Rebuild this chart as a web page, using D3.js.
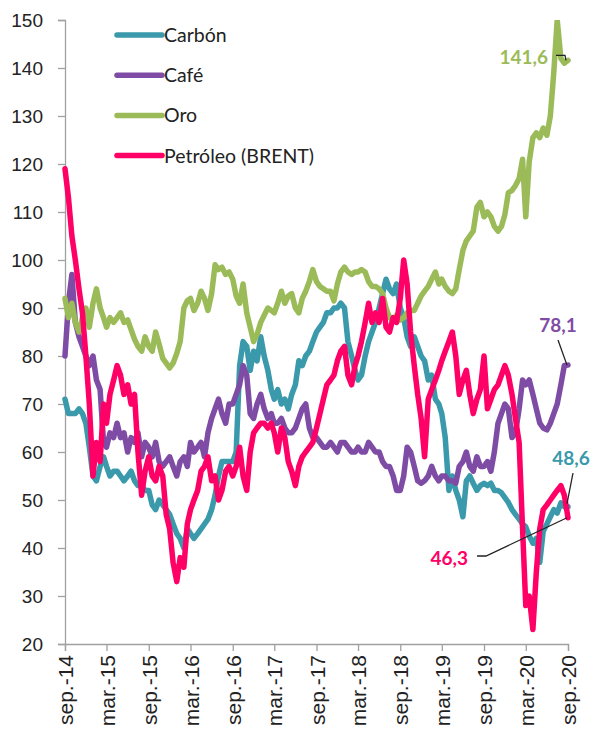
<!DOCTYPE html>
<html>
<head>
<meta charset="utf-8">
<script src="https://cdn.jsdelivr.net/npm/d3@7"></script>
<style>
  body { margin: 0; background: #fff; }
  svg { display: block; font-family: Lato, "Noto Sans", sans-serif; }
</style>
</head>
<body>
<div id="chart"></div>
<script>
// Half-month observations, sep-14 .. sep-20 (index 0 = 1 sep 2014)
const carbon = [
  71, 68, 68, 68, 69, 68, 66, 61, 55, 54, 57, 59, 57, 55, 56, 56, 55, 54, 55, 56,
  54, 53, 53, 52, 52, 49, 48, 50, 49, 48, 47, 45, 43, 42, 40, 44, 43, 42, 43, 44,
  45, 46, 48, 51, 55, 58, 58, 58, 58, 60, 78, 83, 82, 77, 81, 79, 84, 80, 77, 73,
  71, 73, 70, 71, 69, 72, 74, 79, 78, 80, 81, 83, 85, 86, 87, 89, 89, 90, 90, 91,
  90, 83, 80, 77, 75, 76, 80, 83, 85, 87, 90, 93, 96, 94, 93, 95, 90, 88, 84, 82,
  84, 82, 80, 79, 75, 76, 71, 70, 68, 63, 52, 55, 52, 50, 46.5, 54, 55, 53.5, 52, 53,
  53.5, 53, 53.5, 52, 52, 51.5, 50.5, 49.5, 48, 47, 46, 45, 44.4, 42.5, 41, 42, 37, 43.5, 45, 46.5,
  48, 47.3, 49.4, 48.6, 48.6
];
const cafe = [
  80, 91, 97, 87, 84, 82, 80, 78, 80, 75, 73, 62, 61, 64, 63, 66, 63, 64, 60, 63,
  62, 64, 59, 62, 61, 59, 62, 58, 57, 58, 59, 57, 55, 58, 59, 57, 62, 60, 61, 62,
  59, 64, 67, 69, 71, 68, 66, 70, 70, 72, 74, 78, 76, 68, 67, 70, 72, 69, 67, 68,
  66, 66, 67, 65, 64, 64, 65, 67, 69, 70, 65, 63, 63, 62, 61, 61, 62, 61, 60, 62,
  62, 61, 60, 60, 61, 60, 60, 62, 61, 60, 60, 58, 57, 57, 55, 52, 52, 55, 61, 60,
  57, 54, 53.5, 54, 55, 57, 55, 54, 55, 55, 54, 54, 53.5, 57, 58, 60, 57, 56, 59, 57,
  57, 58, 56, 60, 66, 68, 70, 69, 63, 64, 69, 75, 74, 75, 72, 69, 66, 65, 64.6, 66,
  68, 70, 74, 78, 78.1
];
const oro = [
  92, 88, 91, 87, 85, 88, 90, 86, 91, 94, 90, 88, 86, 88, 87, 88, 89, 87, 87.5, 85.5,
  83.5, 82, 81, 84, 82, 81, 85, 82.5, 79.5, 78.5, 77.5, 78.5, 80.5, 83, 90, 91.5, 92, 89.5, 91, 93.5,
  92, 89.5, 93, 99, 98, 98.5, 97, 97.5, 96, 92.5, 91, 95, 89, 86, 83, 84.5, 87, 88.5, 90, 89.5,
  89, 91, 93.5, 91, 92.5, 93, 90, 89, 92, 93.5, 95.5, 98, 95.5, 94.5, 94, 93.5, 93.5, 91.5, 95, 97.5,
  98.5, 97.5, 97, 97.5, 97.5, 98, 97.5, 95.5, 94.5, 94.5, 94, 93, 90, 88, 87.5, 88.5, 87.5, 88, 89, 89.5,
  89.5, 91, 92.5, 93.5, 94.5, 96, 97.5, 95, 96, 94.5, 93.5, 93, 94, 98, 102, 104, 105, 106, 111, 112,
  109, 110, 109, 107, 106, 107, 109.5, 114, 114.5, 115.5, 117, 121, 109, 120.5, 125.5, 126.5, 125.5, 127.5, 126, 130,
  139, 150, 142, 141, 141.6
];
const petroleo = [
  119, 113, 105, 100, 94, 89, 80, 70, 55, 62, 58, 70, 66, 72, 75, 78, 76, 72, 74, 70,
  72, 60, 51, 56, 59, 55, 54, 57, 55, 47, 44, 37, 33, 38, 36, 45, 48, 50, 52, 56,
  57, 59, 54, 55, 50, 52, 56, 57, 55, 57, 61, 55, 52, 60, 64, 65, 66, 66, 65, 66,
  64, 60, 65, 63, 58, 56, 53, 57, 59, 60, 61, 62, 65, 68, 71, 74, 75, 76, 79, 81,
  82, 76, 74, 78, 80, 83, 87, 91, 87, 89, 87, 92, 86, 85, 88, 87, 92, 100, 95, 85,
  78, 72, 67, 59, 71, 73, 75, 77, 79, 81, 83, 85, 80, 72, 75, 77, 72, 68, 71, 73,
  80, 69, 71, 73, 74, 76, 78, 76, 72, 67, 62, 44, 28, 30, 23, 35, 44, 48, 49, 50,
  51, 52, 53, 51, 46.3
];

const seriesNames = ['Carbón', 'Café', 'Oro', 'Petróleo (BRENT)'];
const seriesValues = [carbon, cafe, oro, petroleo];
const seriesColors = ['#3A99AB', '#7F4CA5', '#9BBB59', '#FF0066'];

const yTicks = [20, 30, 40, 50, 60, 70, 80, 90, 100, 110, 120, 130, 140, 150];
const xTickLabels = ['sep.-14', 'mar.-15', 'sep.-15', 'mar.-16', 'sep.-16', 'mar.-17',
  'sep.-17', 'mar.-18', 'sep.-18', 'mar.-19', 'sep.-19', 'mar.-20', 'sep.-20'];

// end labels: series index, text
const endLabels = [
  { s: 2, text: '141,6' },
  { s: 1, text: '78,1' },
  { s: 0, text: '48,6' },
  { s: 3, text: '46,3' }
];

const dateAt = i => new Date(2014, 8 + Math.floor(i / 2), i % 2 ? 16 : 1);
const tickDates = xTickLabels.map((d, i) => new Date(2014, 8 + i * 6, 1));

const width = 594, height = 729;
const margin = { top: 20, right: 26, bottom: 85, left: 65 };
const innerW = width - margin.left - margin.right;
const innerH = height - margin.top - margin.bottom;
const axisColor = '#A0A0A0';

const svg = d3.select('#chart').append('svg')
  .attr('width', width)
  .attr('height', height);

const x = d3.scaleTime()
  .domain([dateAt(0), dateAt(144)])
  .range([0, innerW]);

const y = d3.scaleLinear()
  .domain([20, 150])
  .range([innerH, 0]);

const g = svg.append('g')
  .attr('transform', `translate(${margin.left},${margin.top})`);

svg.append('defs').append('clipPath')
  .attr('id', 'plotclip')
  .append('rect')
  .attr('x', -3).attr('y', 0)
  .attr('width', innerW + 10).attr('height', innerH + 5);

// y axis
const yAxis = g.append('g')
  .call(d3.axisLeft(y).tickValues(yTicks).tickSize(7).tickPadding(15).tickFormat(d3.format('d')));
yAxis.select('.domain').attr('stroke', axisColor).attr('stroke-width', 1.3);
yAxis.selectAll('.tick line').attr('stroke', axisColor).attr('stroke-width', 1.3);
yAxis.selectAll('.tick text')
  .style('font-size', '19px')
  .attr('fill', '#222');

// x axis
const xAxis = g.append('g')
  .attr('transform', `translate(0,${innerH})`)
  .call(d3.axisBottom(x).tickValues(tickDates).tickSize(7).tickFormat((d, i) => xTickLabels[i]));
xAxis.select('.domain').attr('stroke', axisColor).attr('stroke-width', 1.3);
xAxis.selectAll('.tick line').attr('stroke', axisColor).attr('stroke-width', 1.3);
xAxis.selectAll('.tick text')
  .style('font-size', '21px')
  .attr('fill', '#222')
  .attr('transform', 'rotate(-90)')
  .attr('text-anchor', 'end')
  .attr('x', -11)
  .attr('y', 0)
  .attr('dy', '0.36em');

// lines
const line = d3.line()
  .x((d, i) => x(dateAt(i)))
  .y(d => y(d));

g.append('g')
  .attr('clip-path', 'url(#plotclip)')
  .selectAll('path')
  .data(seriesValues)
  .join('path')
  .attr('fill', 'none')
  .attr('stroke', (d, i) => seriesColors[i])
  .attr('stroke-width', 5.5)
  .attr('stroke-linejoin', 'round')
  .attr('stroke-linecap', 'round')
  .attr('d', line);

// legend
const legend = g.append('g').attr('transform', 'translate(52, 15)');
seriesNames.forEach((name, i) => {
  const item = legend.append('g').attr('transform', `translate(0, ${i * 40.2})`);
  item.append('line')
    .attr('x1', 0).attr('x2', 45)
    .attr('stroke', seriesColors[i])
    .attr('stroke-width', 5.5)
    .attr('stroke-linecap', 'round');
  item.append('text')
    .attr('x', 47)
    .attr('dy', '0.36em')
    .style('font-size', '19.5px')
    .attr('fill', '#222')
    .text(name);
});

// end value labels with leader lines
const last = seriesValues.map(v => v[v.length - 1]);
const xEnd = x(dateAt(144));
const labelPos = [
  { x: 483, y: 44, anchor: 'end', path: [[491, y(last[2]) - 5], [500, y(last[2]) - 5], [xEnd - 2, y(last[2])]] },
  { x: 493, y: 312, anchor: 'middle', path: [[493, 320], [xEnd - 1, y(last[1])]] },
  { x: 506, y: 445, anchor: 'middle', path: [[508, 453], [xEnd - 1, y(last[0]) - 3]] },
  { x: 403, y: 545, anchor: 'end', path: [[412, 536], [421, 536], [xEnd - 1, y(last[3])]] }
];
endLabels.forEach((lab, k) => {
  const p = labelPos[k];
  g.append('path')
    .attr('d', d3.line()(p.path))
    .attr('fill', 'none')
    .attr('stroke', '#222')
    .attr('stroke-width', 1.3);
  g.append('text')
    .attr('x', p.x)
    .attr('y', p.y)
    .attr('text-anchor', p.anchor)
    .style('font-size', '19px')
    .style('font-weight', 'bold')
    .attr('fill', seriesColors[lab.s])
    .text(lab.text);
});
</script>
</body>
</html>
